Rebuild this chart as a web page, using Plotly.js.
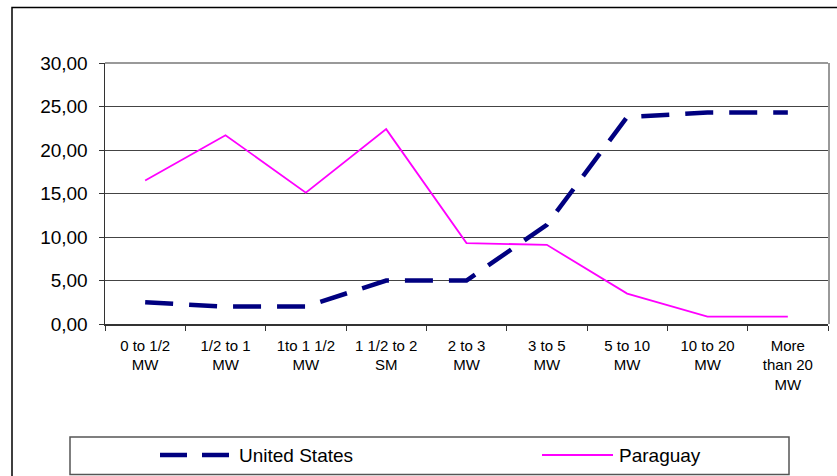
<!DOCTYPE html>
<html>
<head>
<meta charset="utf-8">
<script src="https://cdn.plot.ly/plotly-3.0.1.min.js"></script>
<style>html,body{margin:0;padding:0;background:#fff;}#chart{width:837px;height:476px;}</style>
</head>
<body>
<div id="chart"></div>
<script>
var categories = ["0 to 1/2<br>MW", "1/2 to 1<br>MW", "1to 1 1/2<br>MW", "1 1/2 to 2<br>SM", "2 to 3<br>MW", "3 to 5<br>MW", "5 to 10<br>MW", "10 to 20<br>MW", "More<br>than 20<br>MW"];
var unitedStates = [2.5, 2.0, 2.0, 5.0, 5.0, 11.4, 23.8, 24.3, 24.3];
var paraguay = [16.5, 21.7, 15.1, 22.4, 9.3, 9.1, 3.5, 0.85, 0.85];
var seriesNames = ["United States", "Paraguay"];
var yTicks = [0, 5, 10, 15, 20, 25, 30];

var W = 837, H = 476;
var L = 105, R = 828, T = 63, B = 324;
function xp(px) { return (px - L) / (R - L); }
function yp(py) { return (B - py) / (B - T); }

var traces = [
  { x: categories, y: paraguay, name: seriesNames[1], type: 'scatter', mode: 'lines',
    line: { color: '#FF00FF', width: 1.8 }, showlegend: false },
  { x: categories, y: unitedStates, name: seriesNames[0], type: 'scatter', mode: 'lines',
    line: { color: '#000080', width: 4.5, dash: '28px,16px' }, showlegend: false }
];

var font = 'Arial, "Liberation Sans", sans-serif';

var layout = {
  width: W, height: H,
  margin: { l: L, r: W - R, t: T, b: H - B, pad: 0 },
  paper_bgcolor: '#fff', plot_bgcolor: '#fff',
  separators: ',.',
  showlegend: false,
  font: { family: font, color: '#000' },
  xaxis: {
    type: 'category', categoryorder: 'array', categoryarray: categories,
    range: [-0.5, 8.5], tickson: 'boundaries',
    showgrid: false, zeroline: false,
    showline: true, linecolor: '#333', linewidth: 1.5,
    ticks: 'outside', ticklen: 5, tickcolor: '#333', tickwidth: 1,
    tickfont: { size: 15, family: font, color: '#000' },
    ticklabelstandoff: 7,
    tickangle: 0,
    fixedrange: true
  },
  yaxis: {
    range: [0, 30], tickmode: 'array', tickvals: yTicks, tickformat: '.2f',
    showgrid: true, gridcolor: '#444', gridwidth: 1, zeroline: false,
    showline: true, linecolor: '#333', linewidth: 1.5,
    ticks: 'outside', ticklen: 5, tickcolor: '#333', tickwidth: 1,
    tickfont: { size: 19, family: font, color: '#000' },
    ticklabelstandoff: 7,
    fixedrange: true
  },
  shapes: [
    { type: 'rect', xref: 'paper', yref: 'paper', x0: xp(12), x1: xp(845), y0: yp(485), y1: yp(7.5),
      line: { color: '#000', width: 1.5 }, layer: 'below' },
    { type: 'line', xref: 'paper', yref: 'paper', x0: 0, x1: 1, y0: 1, y1: 1,
      line: { color: '#999', width: 2 }, layer: 'below' },
    { type: 'line', xref: 'paper', yref: 'paper', x0: xp(829), x1: xp(829), y0: 0, y1: 1,
      line: { color: '#999', width: 2 }, layer: 'below' },
    // legend box
    { type: 'rect', xref: 'paper', yref: 'paper', x0: xp(70), x1: xp(789), y0: yp(474.5), y1: yp(437),
      line: { color: '#555', width: 1.5 }, fillcolor: '#fff' },
    { type: 'line', xref: 'paper', yref: 'paper', x0: xp(160), x1: xp(231), y0: yp(455), y1: yp(455),
      line: { color: '#000080', width: 4.5, dash: '27px,15px' } },
    { type: 'line', xref: 'paper', yref: 'paper', x0: xp(542), x1: xp(613), y0: yp(455), y1: yp(455),
      line: { color: '#FF00FF', width: 1.8 } }
  ],
  annotations: [
    { xref: 'paper', yref: 'paper', x: xp(237), y: yp(455), xanchor: 'left', yanchor: 'middle',
      text: seriesNames[0], showarrow: false, font: { size: 19, family: font, color: '#000' } },
    { xref: 'paper', yref: 'paper', x: xp(617), y: yp(455), xanchor: 'left', yanchor: 'middle',
      text: seriesNames[1], showarrow: false, font: { size: 19, family: font, color: '#000' } }
  ]
};

Plotly.newPlot('chart', traces, layout, { displayModeBar: false, staticPlot: true });
</script>
</body>
</html>
